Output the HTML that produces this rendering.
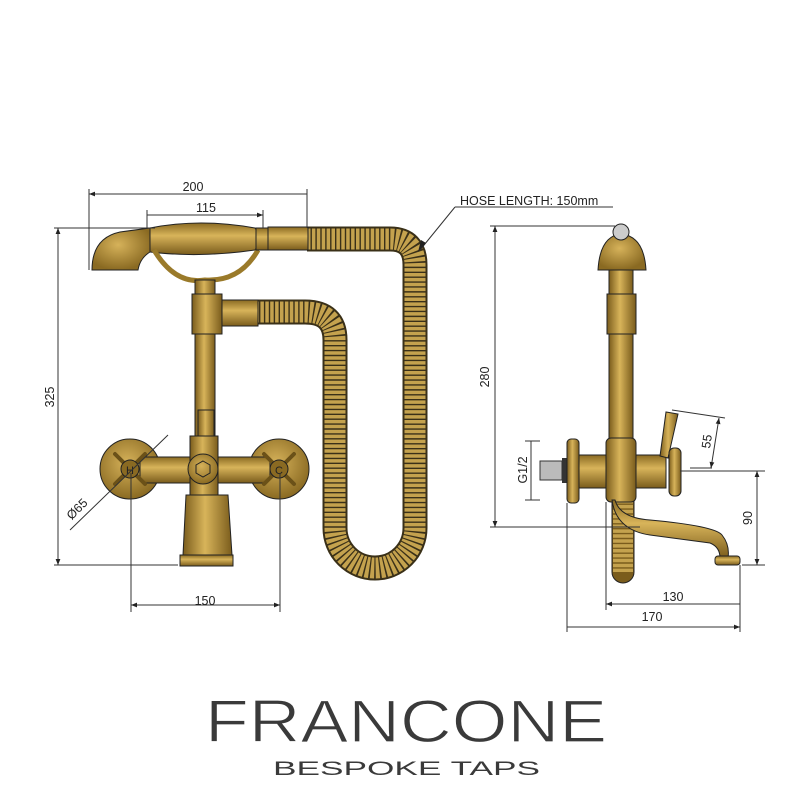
<!DOCTYPE html>
<html><head><meta charset="utf-8"><style>
html,body{margin:0;padding:0;background:#fff;width:793px;height:792px;overflow:hidden}
svg{display:block}
text{font-family:"Liberation Sans",sans-serif;fill:#222}
</style></head><body>
<svg width="793" height="792" viewBox="0 0 793 792" xmlns="http://www.w3.org/2000/svg">
<defs>
<linearGradient id="g" x1="0" y1="0" x2="0" y2="1">
<stop offset="0" stop-color="#8a6a22"/><stop offset="0.4" stop-color="#d8b45a"/><stop offset="1" stop-color="#7a5c1c"/>
</linearGradient>
<linearGradient id="gv" x1="0" y1="0" x2="1" y2="0">
<stop offset="0" stop-color="#7a5c1c"/><stop offset="0.45" stop-color="#d8b45a"/><stop offset="1" stop-color="#7a5c1c"/>
</linearGradient>
<radialGradient id="gr" cx="0.45" cy="0.4" r="0.6">
<stop offset="0" stop-color="#d6b25a"/><stop offset="1" stop-color="#8a6a22"/>
</radialGradient>
<marker id="a" viewBox="0 0 10 10" refX="10" refY="5" markerWidth="8" markerHeight="6" orient="auto-start-reverse"><path d="M0,1 L10,5 L0,9z" fill="#222"/></marker>
</defs>

<!-- HOSE left -->
<g fill="none" stroke-linecap="butt">
<path d="M307,239 H390 Q415,239 415,265 V528 A40,40 0 0 1 335,528 V340 Q335,312 305,312 H258" stroke="#3a3018" stroke-width="25"/>
<path d="M307,239 H390 Q415,239 415,265 V528 A40,40 0 0 1 335,528 V340 Q335,312 305,312 H258" stroke="#c4a24e" stroke-width="21" stroke-dasharray="3.5 1.4"/>
</g>

<!-- hand shower -->
<path d="M92,270 Q92,238 120,232 L150,228 L150,252 Q140,258 138,270 Z" fill="url(#gr)" stroke="#222" stroke-width="1"/>
<path d="M150,228 Q200,218 255,228 Q263,239 255,250 Q200,258 150,252 Z" fill="url(#g)" stroke="#222" stroke-width="1"/>
<path d="M154,250 Q175,285 205,280 Q240,282 258,250" fill="none" stroke="#9a7a2a" stroke-width="5"/>
<rect x="256" y="228" width="12" height="22" fill="url(#g)" stroke="#222"/>
<rect x="268" y="227" width="40" height="23" fill="url(#g)" stroke="#222"/>

<!-- rod and bracket -->
<rect x="195" y="280" width="20" height="165" fill="url(#gv)" stroke="#222"/>
<rect x="192" y="294" width="30" height="40" fill="url(#gv)" stroke="#222"/>
<rect x="222" y="300" width="36" height="26" fill="url(#g)" stroke="#222"/>
<rect x="198" y="410" width="16" height="30" fill="url(#gv)" stroke="#222"/>

<!-- valve body -->
<circle cx="130" cy="469" r="30" fill="url(#gr)" stroke="#222"/>
<circle cx="279" cy="469" r="30" fill="url(#gr)" stroke="#222"/>
<rect x="140" y="457" width="130" height="26" rx="6" fill="url(#g)" stroke="#222"/>
<rect x="190" y="436" width="28" height="60" fill="url(#gv)" stroke="#222"/>
<circle cx="203" cy="469" r="15" fill="url(#gr)" stroke="#222"/>
<polygon points="203,461 210,465 210,473 203,477 196,473 196,465" fill="none" stroke="#222"/>
<g stroke="#6b5118" stroke-width="4" stroke-linecap="round">
<path d="M115,454 L145,484 M145,454 L115,484"/><path d="M264,454 L294,484 M294,454 L264,484"/>
</g>
<circle cx="130" cy="469" r="9" fill="#8a6a22" stroke="#222"/>
<circle cx="279" cy="469" r="9" fill="#8a6a22" stroke="#222"/>
<text x="126" y="474" font-size="11">H</text><text x="275" y="474" font-size="11">C</text>
<path d="M186,495 H228 L232,555 H183 Z" fill="url(#gv)" stroke="#222"/>
<rect x="180" y="555" width="53" height="11" fill="url(#g)" stroke="#222"/>

<!-- left dims -->
<g stroke="#333" stroke-width="1" fill="none">
<path d="M89,189 V270 M307,189 V228 M147,210 V228 M263,210 V228"/>
<path d="M89,194 H307 M147,215 H263" marker-start="url(#a)" marker-end="url(#a)"/>
<path d="M54,228 H155 M54,565 H178"/>
<path d="M58,228 V565" marker-start="url(#a)" marker-end="url(#a)"/>
<path d="M131,473 V612 M280,473 V612"/>
<path d="M131,605 H280" marker-start="url(#a)" marker-end="url(#a)"/>
<path d="M70,530 L168,435"/>
<path d="M455,207 H613 M455,207 L420,250" />
</g>
<path d="M426,243 L418,252 L421,240 Z" fill="#222"/>
<text x="193" y="191" font-size="12.5" text-anchor="middle">200</text>
<text x="206" y="212" font-size="12.5" text-anchor="middle">115</text>
<text x="205" y="605" font-size="12.5" text-anchor="middle">150</text>
<text transform="translate(54,397) rotate(-90)" font-size="12.5" text-anchor="middle">325</text>
<text transform="translate(80,512) rotate(-45)" font-size="12.5" text-anchor="middle">Ø65</text>
<text x="460" y="205" font-size="12.5">HOSE LENGTH: 150mm</text>

<!-- RIGHT VIEW -->
<path d="M612,500 V572 A11,11 0 0 0 634,572 V500" fill="#7a5c1c" stroke="#222"/>
<path d="M612,500 V572" stroke="#c4a24e" stroke-width="20" stroke-dasharray="3.5 1.4" transform="translate(11,0)"/>
<path d="M609,270 V440 H633 V270 Z" fill="url(#gv)" stroke="#222"/>
<rect x="607" y="294" width="29" height="40" fill="url(#gv)" stroke="#222"/>
<path d="M598,270 Q600,236 621,234 Q644,236 646,270 Z" fill="url(#gr)" stroke="#222"/>
<circle cx="621" cy="232" r="8" fill="#ccc" stroke="#222"/>
<rect x="540" y="461" width="22" height="19" fill="#bbb" stroke="#333"/>
<rect x="562" y="458" width="8" height="25" fill="#333"/>
<rect x="567" y="439" width="12" height="64" rx="4" fill="url(#gv)" stroke="#222"/>
<rect x="579" y="455" width="28" height="33" fill="url(#g)" stroke="#222"/>
<rect x="606" y="438" width="30" height="64" rx="5" fill="url(#gv)" stroke="#222"/>
<rect x="636" y="455" width="30" height="33" fill="url(#g)" stroke="#222"/>
<path d="M660,456 L666,412 L678,414 L668,458 Z" fill="url(#gv)" stroke="#222"/>
<rect x="669" y="448" width="12" height="48" rx="5" fill="url(#gv)" stroke="#222"/>
<path d="M615,500 Q620,518 650,520 Q715,526 722,535 Q730,545 728,558 L720,558 Q720,547 710,543 L650,535 Q616,530 612,500 Z" fill="url(#g)" stroke="#222"/>
<rect x="715" y="556" width="25" height="9" rx="3" fill="url(#g)" stroke="#222"/>

<g stroke="#333" stroke-width="1" fill="none">
<path d="M490,226 H615 M490,527 H640"/>
<path d="M495,226 V527" marker-start="url(#a)" marker-end="url(#a)"/>
<path d="M525,441 H540 M525,500 H540 M531,441 V500"/>
<path d="M680,471 H765 M742,565 H765"/>
<path d="M757,471 V565" marker-start="url(#a)" marker-end="url(#a)"/>
<path d="M672,410 L725,418 M690,468 L712,468"/>
<path d="M719,418 L711,468" marker-start="url(#a)" marker-end="url(#a)"/>
<path d="M606,502 V610 M740,565 V632 M567,503 V632"/>
<path d="M606,604 H740 M567,627 H740" marker-start="url(#a)" marker-end="url(#a)"/>
</g>
<text transform="translate(489,377) rotate(-90)" font-size="12.5" text-anchor="middle">280</text>
<text transform="translate(527,470) rotate(-90)" font-size="12.5" text-anchor="middle">G1/2</text>
<text transform="translate(752,518) rotate(-90)" font-size="12.5" text-anchor="middle">90</text>
<text transform="translate(711,442) rotate(-82)" font-size="12.5" text-anchor="middle">55</text>
<text x="673" y="601" font-size="12.5" text-anchor="middle">130</text>
<text x="652" y="621" font-size="12.5" text-anchor="middle">170</text>

<!-- logo -->
<text x="205" y="742" font-size="60" textLength="402" lengthAdjust="spacingAndGlyphs" style="fill:#3a3a3a" stroke="#fff" stroke-width="1.2">FRANCONE</text>
<text x="273" y="775" font-size="19" textLength="267" lengthAdjust="spacingAndGlyphs" style="fill:#3a3a3a">BESPOKE TAPS</text>
</svg>
</body></html>
